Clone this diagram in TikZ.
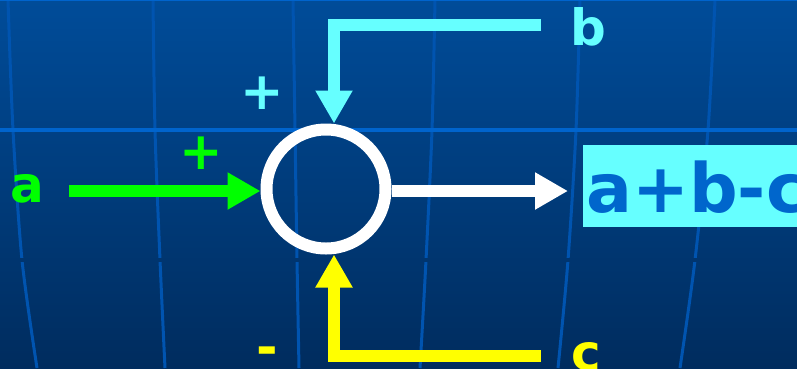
\documentclass[tikz,border=0pt]{standalone}
\usepackage{fontspec}
\setmainfont{DejaVu Sans}
\usetikzlibrary{arrows.meta}

\definecolor{bgtop}{RGB}{0,76,153}
\definecolor{bgbot}{RGB}{0,44,94}
\definecolor{bgmid}{RGB}{0,53,111}
\definecolor{gridblue}{RGB}{0,84,176}
\definecolor{rule}{RGB}{0,100,205}
\definecolor{ina}{RGB}{0,255,0}
\definecolor{inb}{RGB}{102,255,255}
\definecolor{inc}{RGB}{255,255,0}
\definecolor{sumtext}{RGB}{0,102,204}

\begin{document}
\begin{tikzpicture}[x=1pt, y=-1pt,
	feed/.style={line width=12pt, line join=miter, -{Triangle[length=33pt,width=35pt]}},
	lbl/.style={inner sep=0pt, font=\bfseries\fontsize{50}{50}\selectfont},
	sgn/.style={inner sep=0pt, font=\bfseries\fontsize{52}{52}\selectfont},
	meridian/.style={gridblue, line width=3pt}]
	
	\useasboundingbox (0,0) rectangle (797,368);
	\clip (0,0) rectangle (797,368);
	
	% background
	\shade[top color=bgtop, bottom color=bgbot] (0,0) rectangle (797,368);
	\foreach \xa/\xb/\xc/\xd in {8/13/22/37, 153/155/160/165, 293/295/297/299, 435/432/426/420, 580/576/568/558, 715/708/695/680}
		\draw[meridian] plot[smooth] coordinates {(\xa,0) (\xb,130) (\xc,260) (\xd,368)};
	\fill[bgmid] (0,258) rectangle (797,262);
	\draw[rule, line width=4pt] (0,130) -- (797,130);
	\draw[rule, line width=2pt] (0,0) -- (797,0);
	
	% summing junction
	\node[draw=white, line width=12pt, circle, minimum size=119pt, inner sep=0pt] (sum) at (326,189) {};
	
	\coordinate (ain) at (69,191);
	\coordinate (aout) at (568,191);
	\coordinate (bin) at (541,25);
	\coordinate (bbend) at (334,25);
	\coordinate (cin) at (541,356);
	\coordinate (cbend) at (334,356);
	
	\draw[feed, ina] (ain) -- (ain -| sum.west);
	\draw[feed, white] (sum.east |- aout) -- (aout);
	\draw[feed, inb] (bin) -- (bbend) -- (bbend |- sum.north);
	\draw[feed, inc] (cin) -- (cbend) -- (cbend |- sum.south);
	
	% labels
	\node[lbl, ina, anchor=base west] (la) at (10,202) {a};
	\node[lbl, inb, anchor=base west] (lb) at (570,45) {b};
	\node[lbl, inc, anchor=base west] (lc) at (571,370) {c};
	\node[sgn, ina] (pa) at (201,153) {+};
	\node[sgn, inb] (pb) at (262,93) {+};
	\node[sgn, inc] (mc) at (267,356) {-};
	
	\node[fill=inb, text=sumtext, anchor=base west, inner sep=0pt, inner xsep=3pt,
		text height=67pt, text depth=15pt, font=\bfseries\fontsize{68}{68}\selectfont] (out) at (583,212) {a+b-c};
	
\end{tikzpicture}
\end{document}
